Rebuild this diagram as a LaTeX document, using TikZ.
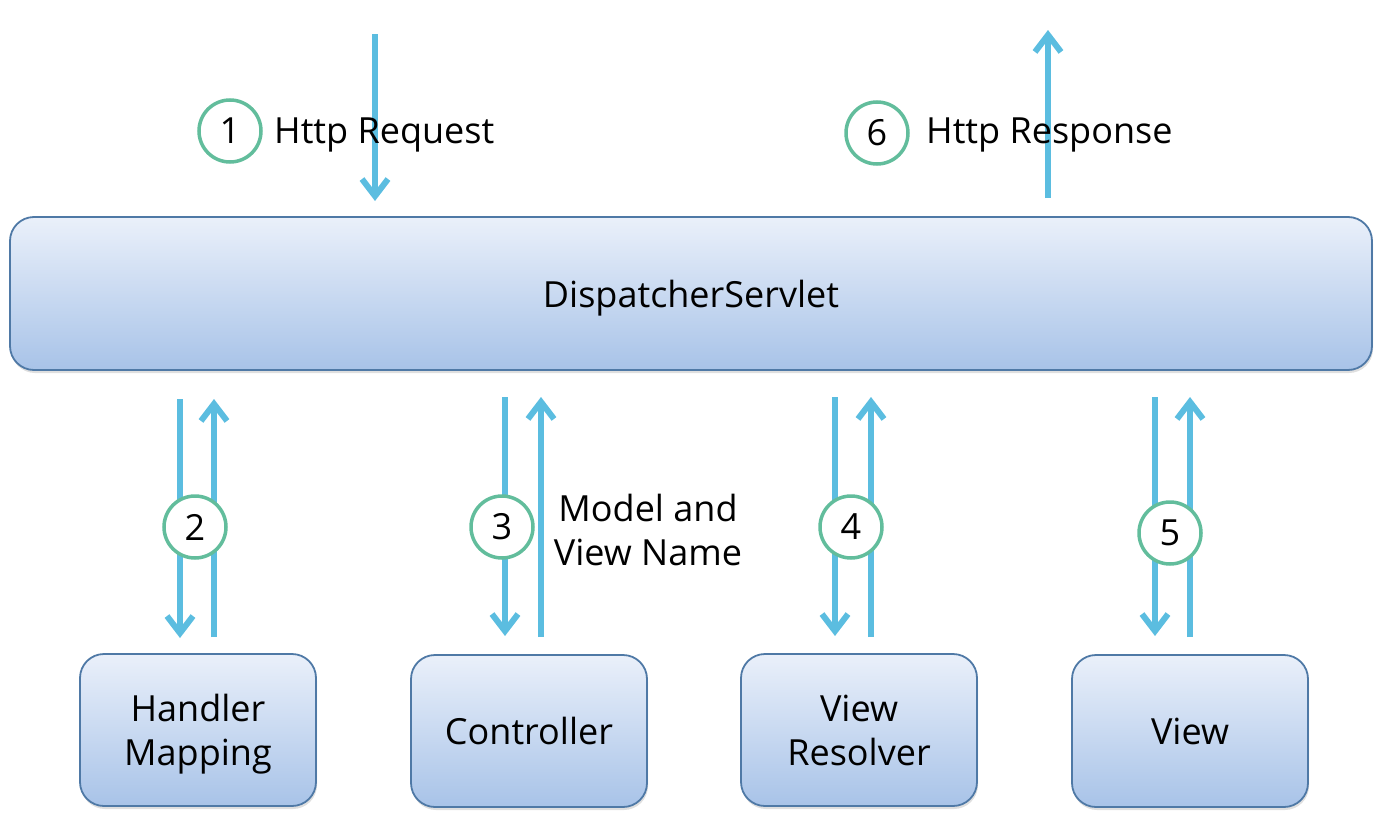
\documentclass[tikz,border=0pt]{standalone}
\usepackage{fontspec}
\setmainfont{Open Sans}
\usepackage{tikz}
\usetikzlibrary{arrows.meta,shadows}
\definecolor{arrblue}{HTML}{5BBDE0}
\definecolor{circgreen}{HTML}{62BD9C}
\definecolor{boxline}{HTML}{4F79A6}
\definecolor{boxtop}{HTML}{EAF0FA}
\definecolor{boxbot}{HTML}{A8C3E8}
\tikzset{>/.tip={Straight Barb[length=17pt,width=26pt]}}
\newcommand{\lbl}{\fontsize{36}{44}\selectfont}

\begin{document}
\begin{tikzpicture}[x=1pt,y=-1pt,
  box/.style={draw=boxline, line width=1.8pt, rounded corners=24pt, top color=boxtop, bottom color=boxbot,
    align=center, font=\lbl, inner sep=0pt, text depth=0pt,
    drop shadow={shadow xshift=1pt, shadow yshift=-3pt, opacity=0.25}},
  flow/.style={draw=arrblue, line width=6pt, ->},
  num/.style={circle, draw=circgreen, line width=3.5pt, fill=white, minimum size=62pt, inner sep=0pt, font=\lbl}]
\useasboundingbox (0,0) rectangle (1382,819);

\node[box, minimum width=1362pt, minimum height=153pt] (ds) at (691,293.5) {DispatcherServlet};
\node[box, minimum width=236pt, minimum height=152pt] (hm) at (198,730) {Handler\\Mapping};
\node[box, minimum width=236pt, minimum height=152pt] (ctl) at (529,731) {Controller};
\node[box, minimum width=236pt, minimum height=152pt] (vr) at (859,730) {View\\Resolver};
\node[box, minimum width=236pt, minimum height=152pt] (vw) at (1190,731) {View};

\coordinate (rq1) at (375,34);   \coordinate (rq2) at (375,201);
\coordinate (rs1) at (1048,198); \coordinate (rs2) at (1048,30);
\coordinate (hm1) at (180,399);  \coordinate (hm2) at (180,638);
\coordinate (hm3) at (214,637);  \coordinate (hm4) at (214,399);
\coordinate (ct1) at (505,397);  \coordinate (ct2) at (505,636);
\coordinate (ct3) at (541,637);  \coordinate (ct4) at (541,397);
\coordinate (vr1) at (835,397);  \coordinate (vr2) at (835,636);
\coordinate (vr3) at (871,637);  \coordinate (vr4) at (871,397);
\coordinate (vw1) at (1155,397); \coordinate (vw2) at (1155,636);
\coordinate (vw3) at (1190,637); \coordinate (vw4) at (1190,397);

\draw[flow] (rq1) to (rq2);
\draw[flow] (rs1) to (rs2);
\draw[flow] (hm1) to (hm2);
\draw[flow] (hm3) to (hm4);
\draw[flow] (ct1) to (ct2);
\draw[flow] (ct3) to (ct4);
\draw[flow] (vr1) to (vr2);
\draw[flow] (vr3) to (vr4);
\draw[flow] (vw1) to (vw2);
\draw[flow] (vw3) to (vw4);

\node[num] (n1) at (230,131) {1};
\node[num] (n6) at (877,133) {6};
\node[num] (n2) at (195,527) {2};
\node[num] (n3) at (502,527) {3};
\node[num] (n4) at (851,527) {4};
\node[num] (n5) at (1170,533) {5};

\node[font=\lbl, anchor=west, inner sep=0pt] (req) at (274,135) {Http Request};
\node[font=\lbl, anchor=west, inner sep=0pt] (resp) at (926,135) {Http Response};
\node[font=\lbl, align=center, inner sep=0pt] (mvn) at (648,530) {Model and\\View Name};
\end{tikzpicture}
\end{document}
